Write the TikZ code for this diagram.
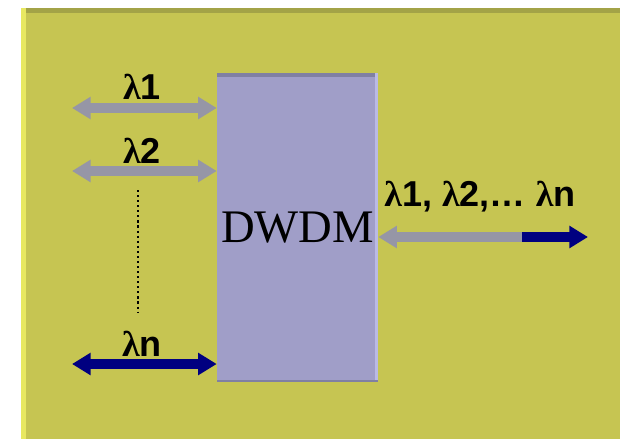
\documentclass[tikz,border=0pt]{standalone}
\usepackage{fontspec}
\setmainfont{Liberation Serif}
\setsansfont{Liberation Sans}
\usetikzlibrary{arrows.meta}
\definecolor{panelfill}{rgb}{0.776, 0.773, 0.322}
\definecolor{paneltop}{rgb}{0.640, 0.640, 0.280}
\definecolor{panelleft}{rgb}{0.910, 0.910, 0.380}
\definecolor{muxfill}{rgb}{0.627, 0.620, 0.784}
\definecolor{muxtop}{rgb}{0.500, 0.500, 0.640}
\definecolor{muxright}{rgb}{0.730, 0.730, 0.900}
\definecolor{fibregray}{rgb}{0.590, 0.590, 0.650}
\definecolor{fibreblue}{rgb}{0.000, 0.000, 0.500}
\newcommand{\lam}{{\rmfamily λ}}

\begin{document}
\begin{tikzpicture}[x=0.75pt,y=-0.75pt]
\tikzset{fibre/.style={line width=7pt, draw=fibregray},
bothtips/.style={{Triangle[width=16pt,length=14pt]}-{Triangle[width=16pt,length=14pt]}},
wavelabel/.style={inner sep=0pt}}
\newcommand{\wavefont}{\fontsize{27pt}{27pt}\selectfont\sffamily\bfseries}
\useasboundingbox (0,0) rectangle (620,439);
\fill[panelfill] (21,8) rectangle (620,439);
\fill[paneltop] (21,8) rectangle (620,13);
\fill[panelleft] (21,8) rectangle (26,439);
\node (dwdm) at (297.5,227.5) [rectangle, minimum width=120.75pt, minimum height=231.75pt, fill=muxfill, inner sep=0pt] {};
\fill[muxtop] (dwdm.north west) rectangle ([yshift=-3pt]dwdm.north east);
\fill[muxright] ([xshift=-2.5pt]dwdm.north east) rectangle (dwdm.south east);
\fill[muxtop] (dwdm.south west) rectangle ([yshift=1.5pt]dwdm.south east);
\node (dwdmtext) at (dwdm.center) [font=\fontsize{35pt}{35pt}\selectfont] {DWDM};
\coordinate (in1) at (72,108);
\coordinate (in2) at (72,171);
\coordinate (inn) at (72,364);
\coordinate (dotstop) at (138,190);
\coordinate (dotsbot) at (138,313);
\coordinate (outsplit) at (522,237);
\coordinate (outend) at (588,237);
\draw[fibre, bothtips] (in1) -- (dwdm.west |- in1);
\draw[fibre, bothtips] (in2) -- (dwdm.west |- in2);
\draw[fibre, bothtips, draw=fibreblue] (inn) -- (dwdm.west |- inn);
\draw[fibre, {Triangle[width=16pt,length=14pt]}-] (dwdm.east |- outsplit) -- (outsplit);
\draw[fibre, draw=fibreblue, -{Triangle[width=16pt,length=14pt]}] (outsplit) -- (outend);
\draw[line width=1.6pt, dash pattern=on 1.6pt off 2.2pt] (dotstop) -- (dotsbot);
\node (lab1) at (142,87) [wavelabel] {\wavefont\lam1};
\node (lab2) at (142,151) [wavelabel] {\wavefont\lam2};
\node (labn) at (142,344) [wavelabel] {\wavefont\lam n};
\node (labout) at (480,197) [wavelabel] {\wavefont\lam1, \lam2,\dots\ \lam n};
\end{tikzpicture}
\end{document}
